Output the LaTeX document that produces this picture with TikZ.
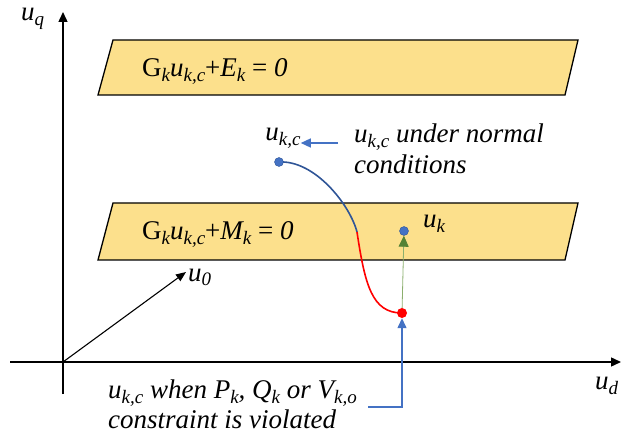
\documentclass[tikz,border=0pt]{standalone}
\usepackage{fontspec}
\setmainfont{Liberation Serif}
\newfontfamily\ctrlserif{Liberation Serif}
\usetikzlibrary{positioning,arrows.meta}
\definecolor{bandyellow}{RGB}{252,224,140}
\definecolor{ptblue}{RGB}{68,114,196}
\definecolor{curveblue}{RGB}{47,85,151}
\definecolor{ptgreen}{RGB}{84,130,53}
\definecolor{linegreen}{RGB}{140,175,110}
\newcommand{\csub}[1]{\raisebox{-5pt}{\fontsize{19}{19}\selectfont\itshape #1}}
\newcommand{\uvar}[1]{\textit{u}\csub{#1}}
\tikzset{
    ctrlband/.style={draw, line width=1.3pt, fill=bandyellow},
    ctrlaxis/.style={draw, line width=1.4pt, -{Triangle[length=10pt,width=9pt]}},
    ctrlvec/.style={draw, line width=1.1pt, -{Triangle[length=10pt,width=8pt]}},
    ctrltext/.style={font=\ctrlserif\fontsize{27}{30}\selectfont\itshape, inner sep=0pt, align=left},
    ctrlnote/.style={ctrltext, font=\ctrlserif\fontsize{27}{31}\selectfont\itshape},
    ctrldot/.style={circle, draw=curveblue, fill=ptblue, minimum size=9pt, inner sep=0pt},
    ctrlred/.style={circle, fill=red, minimum size=10pt, inner sep=0pt},
    ctrlpointer/.style={draw=ptblue, line width=1.3pt, -{Triangle[length=10pt,width=9pt]}},
    ctrlmove/.style={draw=linegreen, line width=0.8pt, -{Triangle[length=11pt,width=10pt,color=ptgreen]}},
    ctrlpath/.style={line width=1.6pt}
}
\begin{document}
\begin{tikzpicture}[x=1pt, y=-1pt]
    \useasboundingbox (0,0) rectangle (622,441);
    % constraint bands
    \draw[ctrlband] (113,40) -- (578,40) -- (565,95) -- (98,95) -- cycle;
    \draw[ctrlband] (113,203) -- (578,203) -- (565,260) -- (98,260) -- cycle;
    \node[ctrltext, anchor=base west] (eband) at (142,77) {\textup{G}\csub{k}\uvar{k,c}\textup{+}E\csub{k} \textup{=} 0};
    \node[ctrltext, anchor=base west] (mband) at (142,240) {\textup{G}\csub{k}\uvar{k,c}\textup{+}M\csub{k} \textup{=} 0};

    % axes
    \coordinate (O) at (63,362);
    \coordinate (qbot) at (63,394);
    \coordinate (qtop) at (63,12);
    \coordinate (dleft) at (10,362);
    \coordinate (dright) at (621,362);
    \draw[ctrlaxis] (qbot) -- (qtop);
    \draw[ctrlaxis] (dleft) -- (dright);
    \node[ctrltext, anchor=base west] (uq) at (21,21) {\uvar{q}};
    \node[ctrltext, anchor=base west] (ud) at (595,389) {\uvar{d}};

    % initial point
    \coordinate (u0) at (186,272);
    \draw[ctrlvec] (O) -- (u0);
    \node[ctrltext, anchor=base west] (u0label) at (188,281) {\uvar{0}};

    % trajectory
    \coordinate (kcpt) at (279,162);
    \coordinate (switch) at (357,232);
    \coordinate (violpt) at (402,313);
    \draw[ctrlpath, curveblue] (kcpt) .. controls (315,160) and (350,205) .. (switch);
    \draw[ctrlpath, red] (switch) .. controls (365,285) and (372,313) .. (violpt);

    \node[ctrldot] (kc) at (kcpt) {};
    \node[ctrldot] (uk) at (404,231) {};
    \node[ctrlred] (viol) at (violpt) {};
    \draw[ctrlmove] (viol) -- (uk);

    \node[ctrltext, above=9pt of kc, xshift=4pt] (kclabel) {\uvar{k,c}};
    \node[ctrltext, anchor=base west] (uklabel) at (423,228) {\uvar{k}};

    % annotations
    \node[ctrlnote, anchor=north west] (normal) at (354,124) {\uvar{k,c} under normal\\conditions};
    \coordinate (normstart) at (338,143);
    \draw[ctrlpointer] (normstart) -- (kclabel.east |- normstart);

    \node[ctrltext, anchor=north west] (violtext) at (108,380) {\uvar{k,c} when P\csub{k}, Q\csub{k} or V\csub{k,o}\\constraint is violated};
    \coordinate (violstart) at (368,407);
    \draw[ctrlpointer] (violstart) -| (viol);
\end{tikzpicture}
\end{document}
